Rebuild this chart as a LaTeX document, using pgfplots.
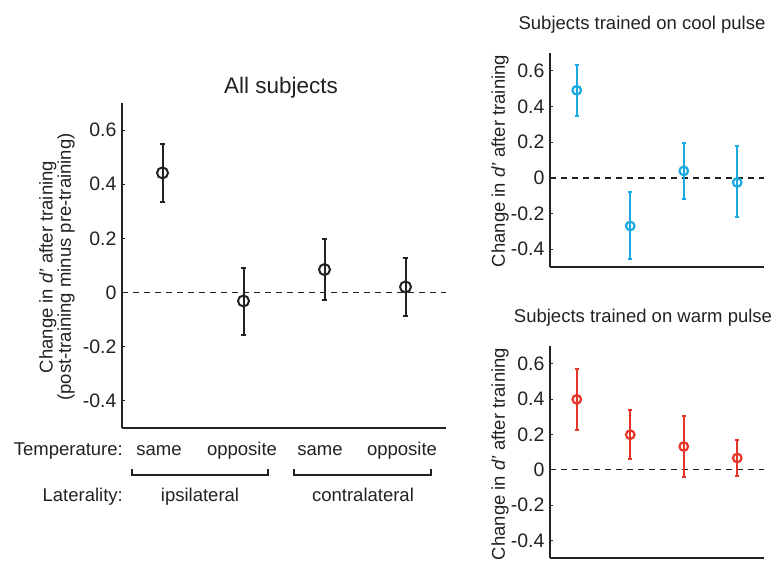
\documentclass[border=0pt]{standalone}
\usepackage{fontspec}
\setmainfont{Liberation Sans}
\usepackage{pgfplots}
\pgfplotsset{compat=1.18}
\usepackage{pgfplotstable}
\definecolor{txt}{HTML}{222222}
\definecolor{coolc}{HTML}{1BA9E1}
\definecolor{warmc}{HTML}{E8352A}

% x, mean, error above, error below
\pgfplotstableread{
x y ep em
1 0.442 0.108 0.109
2 -0.031 0.122 0.125
3 0.085 0.114 0.111
4 0.021 0.106 0.109
}\allsubj
\pgfplotstableread{
x y ep em
1 0.491 0.143 0.142
2 -0.270 0.191 0.183
3 0.039 0.156 0.155
4 -0.026 0.203 0.195
}\cool
\pgfplotstableread{
x y ep em
1 0.398 0.172 0.175
2 0.198 0.138 0.140
3 0.131 0.174 0.172
4 0.066 0.101 0.103
}\warm

\pgfplotsset{
  dp/.style={
    scale only axis, axis lines*=left,
    xmin=0.5, xmax=4.5, ymin=-0.5, ymax=0.7,
    xtick=\empty,
    ytick={-0.4,-0.2,0,0.2,0.4,0.6},
    yticklabels={-0.4,-0.2,0,0.2,0.4,0.6},
    tick align=inside, major tick length=3pt,
    tick style={line width=1pt, txt},
    axis line style={line width=1.8pt, txt},
    yticklabel style={font=\fontsize{19.5}{21}\selectfont, text=txt, xshift=-2pt},
    /pgf/number format/assume math mode=true,
    clip=false},
  zero/.style={txt, line width=1.4pt, dash pattern=on 6pt off 5pt},
}

\begin{document}
\begin{tikzpicture}[x=1pt,y=1pt]
\useasboundingbox (0,0) rectangle (776,-563);

% ---- All subjects ----
\begin{axis}[dp, at={(122pt,-428pt)}, anchor=south west, width=324pt, height=325pt]
\addplot[zero] coordinates {(0.5,0) (4.5,0)};
\addplot[only marks, txt, line width=2pt, mark=o, mark size=5.5pt, mark options={line width=2pt},
  error bars/.cd, y dir=both, y explicit,
  error bar style={line width=2pt, txt},
  error mark options={rotate=90, line width=2pt, mark size=2.8pt, txt}]
  table[x=x, y=y, y error plus=ep, y error minus=em] {\allsubj};
\end{axis}

% ---- cool pulse ----
\begin{axis}[dp, at={(550pt,-267pt)}, anchor=south west, width=214pt, height=214pt]
\addplot[zero] coordinates {(0.5,0) (4.5,0)};
\addplot[only marks, coolc, line width=2.4pt, mark=o, mark size=4.3pt, mark options={line width=2.2pt},
  error bars/.cd, y dir=both, y explicit,
  error bar style={line width=2.4pt, coolc},
  error mark options={rotate=90, line width=2pt, mark size=2.2pt, coolc}]
  table[x=x, y=y, y error plus=ep, y error minus=em] {\cool};
\end{axis}

% ---- warm pulse ----
\begin{axis}[dp, at={(550pt,-558pt)}, anchor=south west, width=214pt, height=212pt]
\addplot[zero] coordinates {(0.5,0) (4.5,0)};
\addplot[only marks, warmc, line width=2.4pt, mark=o, mark size=4.3pt, mark options={line width=2.2pt},
  error bars/.cd, y dir=both, y explicit,
  error bar style={line width=2.4pt, warmc},
  error mark options={rotate=90, line width=2pt, mark size=2.2pt, warmc}]
  table[x=x, y=y, y error plus=ep, y error minus=em] {\warm};
\end{axis}

% titles
\node[anchor=base, text=txt, font=\fontsize{22.5}{26}\selectfont] at (281,-93) {All subjects};
\node[anchor=base, text=txt, font=\fontsize{18.5}{21}\selectfont] at (642,-29.5) {Subjects trained on cool pulse};
\node[anchor=base, text=txt, font=\fontsize{18.5}{21}\selectfont] at (643,-322.5) {Subjects trained on warm pulse};

% y labels
\node[rotate=90, align=center, text=txt, font=\fontsize{18.5}{17}\selectfont] at (57,-267)
  {Change in \textit{d'} after training\\(post-training minus pre-training)};
\node[rotate=90, text=txt, font=\fontsize{18.5}{21}\selectfont] at (500,-161) {Change in \textit{d'} after training};
\node[rotate=90, text=txt, font=\fontsize{18.5}{21}\selectfont] at (500,-454) {Change in \textit{d'} after training};

% category labels below the main panel
\begin{scope}[font=\fontsize{18.5}{20}\selectfont, text=txt]
\node[anchor=base east, inner sep=0pt] at (123,-455) {Temperature:};
\node[anchor=base, inner sep=0pt] at (159,-455) {same};
\node[anchor=base, inner sep=0pt] at (242,-455) {opposite};
\node[anchor=base, inner sep=0pt] at (320,-455) {same};
\node[anchor=base, inner sep=0pt] at (402,-455) {opposite};
\node[anchor=base east, inner sep=0pt] at (123,-501) {Laterality:};
\node[anchor=base, inner sep=0pt] at (200,-501) {ipsilateral};
\node[anchor=base, inner sep=0pt] at (363,-501) {contralateral};
\end{scope}
\draw[txt, line width=1.5pt] (132,-469) -- (132,-475) -- (268,-475) -- (268,-469);
\draw[txt, line width=1.5pt] (294,-469) -- (294,-475) -- (431,-475) -- (431,-469);
\end{tikzpicture}
\end{document}
